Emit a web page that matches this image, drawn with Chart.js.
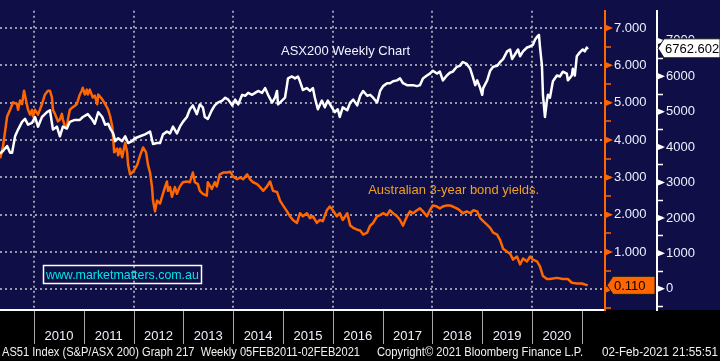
<!DOCTYPE html>
<html>
<head>
<meta charset="utf-8">
<script src="https://cdn.jsdelivr.net/npm/chart.js@4.4.1/dist/chart.umd.min.js"></script>
<style>
  html, body { margin: 0; padding: 0; background: #000; }
  canvas { display: block; }
</style>
</head>
<body>
<canvas id="chart" width="720" height="361"></canvas>
<script>
// weekly ASX200 (AS51 Index)
const asxYears = [2009.32, 2009.38, 2009.46, 2009.52, 2009.56, 2009.62, 2009.68, 2009.76, 2009.82, 2009.88,
    2009.96, 2010.02, 2010.08, 2010.16, 2010.26, 2010.32, 2010.38, 2010.46, 2010.52, 2010.58,
    2010.66, 2010.72, 2010.82, 2010.92, 2010.98, 2011.08, 2011.16, 2011.22, 2011.29, 2011.37,
    2011.43, 2011.49, 2011.53, 2011.59, 2011.63, 2011.69, 2011.77, 2011.83, 2011.89, 2011.97,
    2012.03, 2012.13, 2012.23, 2012.33, 2012.39, 2012.47, 2012.53, 2012.59, 2012.67, 2012.73,
    2012.79, 2012.87, 2012.93, 2012.99, 2013.07, 2013.13, 2013.19, 2013.27, 2013.33, 2013.39,
    2013.43, 2013.49, 2013.57, 2013.63, 2013.69, 2013.78, 2013.84, 2013.90, 2013.98, 2014.04,
    2014.10, 2014.18, 2014.24, 2014.30, 2014.38, 2014.44, 2014.50, 2014.58, 2014.64, 2014.70,
    2014.78, 2014.84, 2014.88, 2014.90, 2014.98, 2015.04, 2015.08, 2015.10, 2015.18, 2015.24,
    2015.30, 2015.34, 2015.40, 2015.48, 2015.54, 2015.60, 2015.64, 2015.70, 2015.78, 2015.84,
    2015.90, 2015.98, 2016.04, 2016.10, 2016.14, 2016.20, 2016.29, 2016.35, 2016.41, 2016.49,
    2016.55, 2016.61, 2016.69, 2016.75, 2016.81, 2016.89, 2016.95, 2017.01, 2017.09, 2017.15,
    2017.21, 2017.29, 2017.35, 2017.41, 2017.49, 2017.55, 2017.61, 2017.69, 2017.75, 2017.81,
    2017.89, 2017.95, 2018.01, 2018.09, 2018.15, 2018.21, 2018.29, 2018.35, 2018.41, 2018.49,
    2018.55, 2018.61, 2018.69, 2018.76, 2018.82, 2018.86, 2018.90, 2018.96, 2019.00, 2019.02,
    2019.10, 2019.16, 2019.22, 2019.30, 2019.36, 2019.42, 2019.50, 2019.56, 2019.60, 2019.66,
    2019.72, 2019.76, 2019.82, 2019.90, 2019.96, 2020.02, 2020.06, 2020.10, 2020.14, 2020.16,
    2020.20, 2020.22, 2020.26, 2020.30, 2020.32, 2020.36, 2020.42, 2020.50, 2020.56, 2020.62,
    2020.70, 2020.72, 2020.80, 2020.82, 2020.86, 2020.90, 2020.96, 2021.02, 2021.06, 2021.10,
    2021.12];
const asxValues = [3815, 3897, 4033, 3842, 3842, 4306, 4496, 4714, 4796, 4633,
    4687, 4851, 4578, 4851, 4987, 5041, 4496, 4578, 4306, 4578,
    4524, 4714, 4769, 4769, 4851, 4932, 4796, 4660, 4987, 4851,
    4633, 4660, 4524, 4387, 4169, 4251, 4169, 4306, 4115, 4169,
    4251, 4306, 4360, 4442, 4088, 4115, 4115, 4360, 4442, 4387,
    4578, 4387, 4578, 4714, 4851, 5069, 5178, 4932, 5205, 5123,
    4851, 4796, 5041, 5178, 5259, 5314, 5396, 5341, 5178, 5341,
    5205, 5477, 5450, 5532, 5477, 5532, 5586, 5532, 5668, 5477,
    5259, 5396, 5586, 5205, 5314, 5396, 5750, 5941, 5995, 5941,
    5995, 5859, 5614, 5668, 5586, 5668, 5396, 5069, 5314, 5123,
    5314, 5123, 4987, 5069, 4851, 5123, 5041, 5259, 5341, 5178,
    5450, 5586, 5450, 5477, 5396, 5259, 5586, 5723, 5804, 5804,
    5859, 5886, 5941, 5804, 5750, 5750, 5750, 5723, 5750, 5941,
    6022, 6077, 6159, 6077, 6131, 5886, 6022, 6100, 6131, 6268,
    6295, 6404, 6349, 6213, 5941, 5750, 5886, 5668, 5477, 5668,
    5886, 6159, 6268, 6295, 6404, 6486, 6704, 6758, 6486, 6622,
    6758, 6567, 6704, 6813, 6840, 6894, 7031, 7112, 7167, 6840,
    6295, 5477, 4851, 5314, 5477, 5396, 5859, 6022, 5995, 6131,
    6077, 5886, 6022, 6213, 6022, 6567, 6676, 6758, 6704, 6813,
    6762.602];

// Australian 3-year bond yield (%)
const bondYears = [2009.32, 2009.38, 2009.46, 2009.52, 2009.58, 2009.66, 2009.68, 2009.72, 2009.76, 2009.80,
    2009.84, 2009.88, 2009.92, 2009.96, 2009.98, 2010.02, 2010.08, 2010.16, 2010.22, 2010.28,
    2010.32, 2010.36, 2010.38, 2010.42, 2010.46, 2010.48, 2010.52, 2010.56, 2010.58, 2010.62,
    2010.66, 2010.68, 2010.72, 2010.78, 2010.86, 2010.92, 2010.96, 2010.98, 2011.02, 2011.06,
    2011.08, 2011.12, 2011.18, 2011.22, 2011.27, 2011.29, 2011.37, 2011.43, 2011.49, 2011.53,
    2011.57, 2011.59, 2011.61, 2011.67, 2011.69, 2011.73, 2011.77, 2011.83, 2011.87, 2011.89,
    2011.93, 2011.99, 2012.07, 2012.13, 2012.19, 2012.25, 2012.29, 2012.33, 2012.37, 2012.39,
    2012.43, 2012.47, 2012.53, 2012.57, 2012.63, 2012.67, 2012.69, 2012.73, 2012.77, 2012.83,
    2012.87, 2012.93, 2012.99, 2013.07, 2013.13, 2013.19, 2013.23, 2013.29, 2013.33, 2013.39,
    2013.47, 2013.49, 2013.57, 2013.63, 2013.67, 2013.73, 2013.80, 2013.88, 2013.94, 2014.00,
    2014.08, 2014.14, 2014.20, 2014.28, 2014.34, 2014.40, 2014.48, 2014.54, 2014.60, 2014.68,
    2014.74, 2014.80, 2014.88, 2014.94, 2015.00, 2015.08, 2015.14, 2015.20, 2015.28, 2015.34,
    2015.40, 2015.48, 2015.54, 2015.60, 2015.68, 2015.74, 2015.80, 2015.88, 2015.94, 2016.00,
    2016.08, 2016.14, 2016.20, 2016.29, 2016.35, 2016.41, 2016.49, 2016.55, 2016.61, 2016.69,
    2016.75, 2016.81, 2016.89, 2016.95, 2017.01, 2017.09, 2017.15, 2017.21, 2017.29, 2017.35,
    2017.41, 2017.49, 2017.55, 2017.61, 2017.69, 2017.75, 2017.81, 2017.89, 2017.95, 2018.01,
    2018.09, 2018.15, 2018.21, 2018.29, 2018.35, 2018.41, 2018.49, 2018.55, 2018.61, 2018.69,
    2018.76, 2018.82, 2018.90, 2018.96, 2019.02, 2019.10, 2019.16, 2019.22, 2019.30, 2019.36,
    2019.42, 2019.50, 2019.56, 2019.62, 2019.70, 2019.76, 2019.82, 2019.90, 2019.96, 2020.02,
    2020.10, 2020.16, 2020.22, 2020.30, 2020.36, 2020.50, 2020.62, 2020.72, 2020.80, 2020.90,
    2021.00, 2021.12];
const bondValues = [3.51, 3.85, 4.63, 4.81, 5.01, 4.96, 4.81, 5.06, 4.96, 5.32,
    5.06, 4.81, 4.68, 4.81, 4.63, 4.81, 4.68, 4.96, 5.22, 5.32,
    5.32, 5.14, 4.81, 4.70, 4.57, 4.50, 4.55, 4.70, 4.55, 4.37,
    4.32, 4.55, 4.81, 4.88, 4.96, 5.22, 5.32, 5.40, 5.22, 5.35,
    5.22, 5.35, 5.14, 5.19, 4.96, 5.22, 5.09, 4.96, 4.81, 4.63,
    4.37, 4.03, 3.67, 3.77, 3.59, 3.77, 3.54, 3.93, 3.67, 3.33,
    3.08, 3.15, 3.33, 3.59, 3.80, 3.67, 3.33, 3.13, 2.74, 2.38,
    2.09, 2.38, 2.30, 2.48, 2.74, 2.89, 2.64, 2.74, 2.48, 2.74,
    2.56, 2.76, 2.87, 2.89, 2.87, 3.13, 2.87, 2.82, 2.64, 2.56,
    2.51, 2.87, 2.69, 2.87, 2.76, 3.08, 3.13, 3.13, 3.15, 3.02,
    2.95, 3.00, 2.95, 3.08, 2.95, 2.87, 2.82, 2.74, 2.64, 2.76,
    2.89, 2.64, 2.61, 2.38, 2.25, 2.09, 1.96, 1.86, 1.78, 2.04,
    1.96, 2.04, 1.91, 1.96, 1.78, 1.86, 1.83, 2.12, 2.22, 2.12,
    1.96, 2.04, 1.86, 2.04, 1.71, 1.65, 1.60, 1.58, 1.47, 1.52,
    1.71, 1.78, 1.96, 1.99, 2.04, 1.99, 2.12, 2.04, 1.96, 1.86,
    1.71, 1.96, 2.09, 2.04, 2.12, 2.17, 2.09, 1.96, 2.12, 2.25,
    2.22, 2.17, 2.22, 2.25, 2.25, 2.22, 2.17, 2.12, 2.04, 2.09,
    2.04, 2.12, 2.09, 1.91, 1.83, 1.73, 1.65, 1.52, 1.47, 1.32,
    1.09, 1.01, 0.96, 0.80, 0.88, 0.67, 0.83, 0.75, 0.88, 0.80,
    0.75, 0.62, 0.36, 0.28, 0.28, 0.31, 0.28, 0.28, 0.18, 0.16,
    0.16, 0.110];

const yearLabels = [2010, 2011, 2012, 2013, 2014, 2015, 2016, 2017, 2018, 2019, 2020];
const gridYears = [2010, 2012, 2014, 2016, 2018, 2020];
const lastAsx = '6762.602';
const lastBond = '0.110';

const NAVY = '#0f0e46';
const ORANGE = '#ff6600';
const GRID = '#9a9aa6';
const LABEL = '#eef0ff';
const FONT = "'Liberation Sans', Arial, sans-serif";

function zip(xs, ys) {
    return xs.map((x, i) => ({ x: x, y: ys[i] }));
}

function stepTicks(from, to, step) {
    const out = [];
    for (let v = from; v <= to + 1e-9; v += step) out.push({ value: Math.round(v * 1000) / 1000 });
    return out;
}

function arrowBox(ctx, tipX, y, right, h, fill, text, textX) {
    ctx.beginPath();
    ctx.moveTo(tipX, y);
    ctx.lineTo(tipX + 6, y - h / 2);
    ctx.lineTo(right, y - h / 2);
    ctx.lineTo(right, y + h / 2);
    ctx.lineTo(tipX + 6, y + h / 2);
    ctx.closePath();
    ctx.fillStyle = fill;
    ctx.fill();
    ctx.lineWidth = 1;
    ctx.strokeStyle = '#1a1a1a';
    ctx.stroke();
    ctx.fillStyle = '#000';
    ctx.font = '13px ' + FONT;
    ctx.textAlign = 'left';
    ctx.textBaseline = 'middle';
    ctx.fillText(text, textX, y + 1);
}

const bloombergDecor = {
    id: 'bloombergDecor',
    beforeDraw(chart) {
        const ctx = chart.ctx;
        ctx.save();
        ctx.fillStyle = '#000';
        ctx.fillRect(0, 0, chart.width, chart.height);
        ctx.fillStyle = NAVY;
        ctx.fillRect(0, 0, chart.width, chart.chartArea.bottom);
        ctx.restore();
    },
    afterDraw(chart) {
        const ctx = chart.ctx;
        const area = chart.chartArea;
        const xs = chart.scales.x;
        const yb = chart.scales.yYield;
        const ya = chart.scales.yIndex;
        ctx.save();

        // arrow heads on the major ticks
        for (let v = 0; v <= 7; v++) {
            let p = yb.getPixelForValue(v);
            ctx.fillStyle = ORANGE;
            ctx.beginPath();
            ctx.moveTo(yb.left, p - 3.5); ctx.lineTo(yb.left + 8, p); ctx.lineTo(yb.left, p + 3.5);
            ctx.fill();
            p = ya.getPixelForValue(v * 1000);
            ctx.fillStyle = '#fff';
            ctx.beginPath();
            ctx.moveTo(ya.left, p - 3.5); ctx.lineTo(ya.left + 8, p); ctx.lineTo(ya.left, p + 3.5);
            ctx.fill();
        }

        // year band under the plot
        ctx.strokeStyle = '#a8a8a8';
        ctx.lineWidth = 1;
        for (let y = 2010; y <= 2021; y++) {
            const px = Math.round(xs.getPixelForValue(y)) + 0.5;
            ctx.beginPath();
            ctx.moveTo(px, area.bottom + 1);
            ctx.lineTo(px, area.bottom + 34);
            ctx.stroke();
        }
        ctx.fillStyle = LABEL;
        ctx.font = '13px ' + FONT;
        ctx.textAlign = 'center';
        ctx.textBaseline = 'middle';
        yearLabels.forEach(y => ctx.fillText(String(y), xs.getPixelForValue(y + 0.5), area.bottom + 26));

        // footer
        ctx.font = '12px ' + FONT;
        ctx.textAlign = 'left';
        ctx.fillStyle = '#f2f2f2';
        ctx.fillText('AS51 Index (S&P/ASX 200) Graph 217  Weekly 05FEB2011-02FEB2021', 2, 353, 358);
        ctx.fillText('Copyright\u00a9 2021 Bloomberg Finance L.P.', 377, 353, 206);
        ctx.fillText('02-Feb-2021 21:55:51', 602, 353, 116);

        // chart notes
        ctx.font = '13px ' + FONT;
        ctx.fillStyle = '#f4f4ff';
        ctx.fillText('ASX200 Weekly Chart', xs.getPixelForValue(2014.96), yb.getPixelForValue(6.36));
        ctx.fillStyle = '#f0a020';
        ctx.fillText('Australian 3-year bond yields.', xs.getPixelForValue(2016.71), yb.getPixelForValue(2.64), 171);

        const bx1 = xs.getPixelForValue(2010.18), bx2 = xs.getPixelForValue(2013.35);
        const by1 = yb.getPixelForValue(0.65), by2 = yb.getPixelForValue(0.16);
        ctx.strokeStyle = '#fff';
        ctx.lineWidth = 1.5;
        ctx.strokeRect(Math.round(bx1) + 0.5, Math.round(by1) + 0.5, Math.round(bx2 - bx1), Math.round(by2 - by1));
        ctx.fillStyle = '#00e6e6';
        ctx.fillText('www.marketmatters.com.au', bx1 + 3, (by1 + by2) / 2 + 1, bx2 - bx1 - 5);

        // last value tags
        arrowBox(ctx, ya.left + 1, ya.getPixelForValue(6762.602) - 1, chart.width, 19, '#ffffff', lastAsx, ya.left + 8);
        arrowBox(ctx, yb.left + 2, yb.getPixelForValue(0.110), ya.left - 2, 18, ORANGE, lastBond, yb.left + 9);

        ctx.restore();
    }
};

const ctx = document.getElementById('chart').getContext('2d');
window.myChart = new Chart(ctx, {
    type: 'line',
    data: {
        datasets: [{
            label: 'ASX200',
            data: zip(asxYears, asxValues),
            yAxisID: 'yIndex',
            borderColor: '#ffffff',
            borderWidth: 2.5,
            borderJoinStyle: 'round',
            pointRadius: 0,
            tension: 0
        }, {
            label: 'Australian 3-year bond yield',
            data: zip(bondYears, bondValues),
            yAxisID: 'yYield',
            borderColor: ORANGE,
            borderWidth: 2.5,
            borderJoinStyle: 'round',
            pointRadius: 0,
            tension: 0
        }]
    },
    options: {
        responsive: false,
        animation: false,
        devicePixelRatio: 1,
        layout: { padding: { left: 0, right: 0, top: 0, bottom: 51 } },
        plugins: { legend: { display: false }, tooltip: { enabled: false } },
        scales: {
            x: {
                type: 'linear',
                position: 'bottom',
                min: 2009.317,
                max: 2021.466,
                afterBuildTicks: s => { s.ticks = gridYears.map(v => ({ value: v })); },
                afterFit: s => { s.height = 0; },
                ticks: { display: false },
                grid: { color: GRID, lineWidth: 2, drawTicks: false },
                border: { color: '#ffffff', width: 2, dash: [2, 3] }
            },
            yYield: {
                position: 'right',
                min: -0.55,
                max: 7.46,
                afterBuildTicks: s => { s.ticks = stepTicks(-0.5, 7, 0.5); },
                afterFit: s => { s.width = 52; },
                ticks: {
                    autoSkip: false,
                    padding: 3,
                    color: LABEL,
                    font: { family: FONT, size: 13 },
                    callback: v => Number.isInteger(v) ? v.toFixed(3) : ''
                },
                grid: {
                    color: c => (c.tick && Number.isInteger(c.tick.value)) ? GRID : 'rgba(0,0,0,0)',
                    lineWidth: 2,
                    tickLength: 6,
                    tickWidth: 1.5,
                    tickColor: ORANGE,
                    tickBorderDash: []
                },
                border: { color: ORANGE, width: 2, dash: [2, 3] }
            },
            yIndex: {
                position: 'right',
                min: -600,
                max: 7850,
                afterBuildTicks: s => { s.ticks = stepTicks(-500, 7000, 500); },
                afterFit: s => { s.width = 63; },
                ticks: {
                    autoSkip: false,
                    padding: 3,
                    color: LABEL,
                    font: { family: FONT, size: 13 },
                    callback: v => (v % 1000 === 0) ? String(v) : ''
                },
                grid: {
                    drawOnChartArea: false,
                    tickLength: 6,
                    tickWidth: 1.5,
                    tickColor: '#ffffff',
                    tickBorderDash: []
                },
                border: { color: '#ffffff', width: 2 }
            }
        }
    },
    plugins: [bloombergDecor]
});
</script>
</body>
</html>
